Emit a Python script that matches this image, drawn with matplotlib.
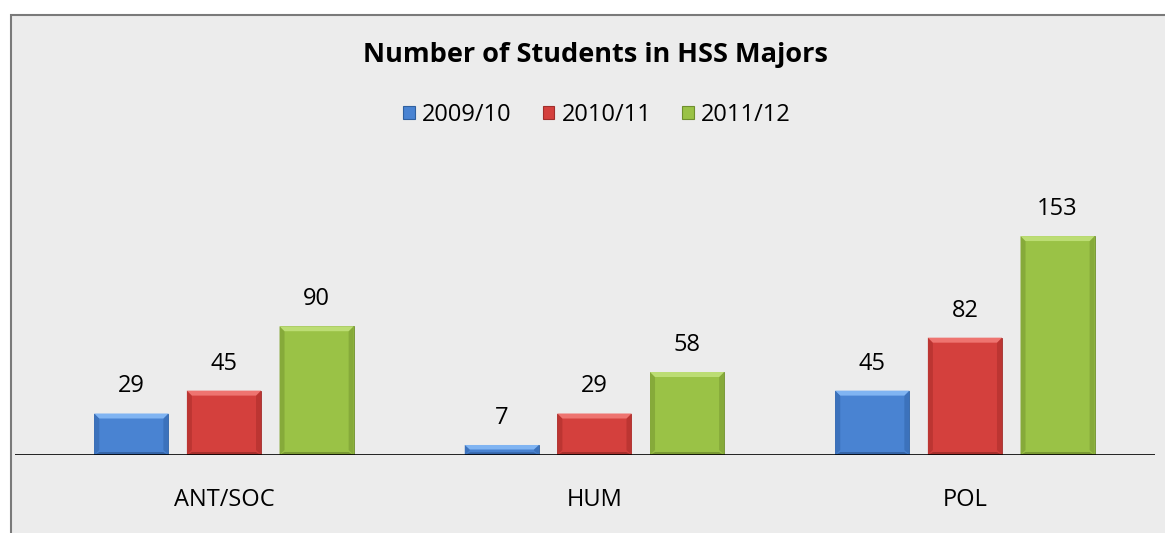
import matplotlib
matplotlib.use("Agg")
import matplotlib.pyplot as plt
import numpy as np
from matplotlib.patches import Rectangle, Polygon

categories = ["ANT/SOC", "HUM", "POL"]
series_names = ["2009/10", "2010/11", "2011/12"]
v2009 = [29, 7, 45]
v2010 = [45, 29, 82]
v2011 = [90, 58, 153]
title = "Number of Students in HSS Majors"

colors = ["#4983D2", "#D4403D", "#9AC246"]
edge_colors = ["#2F609F", "#A02E2B", "#6F8F2E"]
light_colors = ["#80B4F2", "#EE7470", "#BCDD74"]
side_colors = ["#3C72BC", "#BC3532", "#86AA3A"]
bottom_colors = ["#3565A8", "#A8302D", "#7A9A34"]

plt.rcParams['font.family'] = ['Open Sans', 'DejaVu Sans']

W, H = 1165, 533
fig = plt.figure(figsize=(W / 100, H / 100), dpi=100)
bg = "#ECECEC"
fig.patch.set_facecolor("white")

# chart area background with border
bgax = fig.add_axes([0, 0, 1, 1], zorder=-1)
bgax.set_xlim(0, W)
bgax.set_ylim(H, 0)
bgax.axis("off")
bgax.add_patch(Rectangle((11, 15), W + 20, H + 20, facecolor=bg, edgecolor="#7A7A7A",
                         linewidth=1.5))

ax_left, ax_right = 15 / W, 1155 / W
ax_bottom, ax_top = 1 - 455 / H, 1 - 160 / H
ax = fig.add_axes([ax_left, ax_bottom, ax_right - ax_left, ax_top - ax_bottom], zorder=1)
ax.set_facecolor("none")

x = np.arange(len(categories))
data = [v2009, v2010, v2011]
width = 0.2
step = 0.25
px_per_unit = 1.431
x_span = 2.513 + 0.564
px_per_x = (1155 - 15) / x_span
ax.set_xlim(-0.564, 2.513)
ax.set_ylim(0, (455 - 160) / px_per_unit)

bev_px = 5
for i, (vals, name) in enumerate(zip(data, series_names)):
    xs = x + (i - 1) * step
    vals = np.array(vals, dtype=float)
    bars = ax.bar(xs, vals, width, color=colors[i], edgecolor=edge_colors[i], linewidth=0.6,
                  label=name, zorder=2)
    for b in bars:
        x0, y0 = b.get_x(), b.get_y()
        w, h = b.get_width(), b.get_height()
        x1, y1 = x0 + w, y0 + h
        dy = min(bev_px / px_per_unit, h * 0.45)
        dx = min(bev_px / px_per_x, w * 0.45)
        # sides
        ax.add_patch(Polygon([(x0, y0), (x0 + dx, y0 + dy), (x0 + dx, y1 - dy), (x0, y1)],
                             closed=True, facecolor=side_colors[i], linewidth=0, zorder=3))
        ax.add_patch(Polygon([(x1, y0), (x1 - dx, y0 + dy), (x1 - dx, y1 - dy), (x1, y1)],
                             closed=True, facecolor=side_colors[i], linewidth=0, zorder=3))
        # top highlight
        ax.add_patch(Polygon([(x0, y1), (x1, y1), (x1 - dx, y1 - dy), (x0 + dx, y1 - dy)],
                             closed=True, facecolor=light_colors[i], linewidth=0, zorder=3))
        # bottom shade
        ax.add_patch(Polygon([(x0, y0), (x1, y0), (x1 - dx, y0 + dy * 0.6), (x0 + dx, y0 + dy * 0.6)],
                             closed=True, facecolor=bottom_colors[i], linewidth=0, zorder=3))
    for xv, v in zip(xs, vals):
        ax.annotate(f"{int(v)}", (xv, v), xytext=(0, 19.5), textcoords="offset points",
                    ha="center", va="center", fontsize=17, color="black")

ax.axhline(0, color="black", linewidth=1.2, zorder=4)
for s in ax.spines.values():
    s.set_visible(False)
ax.set_yticks([])
ax.set_xticks(x)
ax.set_xticklabels(categories, fontsize=17)
ax.tick_params(axis="x", length=0, pad=24)

fig.text(595 / W, 1 - 55 / H, title, ha="center", va="center", fontsize=19.5,
         fontweight="bold")

handles = [Rectangle((0, 0), 1, 1, facecolor=c, edgecolor=e, linewidth=0.8)
           for c, e in zip(colors, edge_colors)]
fig.legend(handles, series_names, loc="center", bbox_to_anchor=(597 / W, 1 - 115 / H),
           ncol=3, frameon=False, fontsize=17, handlelength=0.5, handleheight=0.5,
           handletextpad=0.3, columnspacing=1.3)

fig.savefig("out.png", dpi=100, facecolor=fig.get_facecolor())
